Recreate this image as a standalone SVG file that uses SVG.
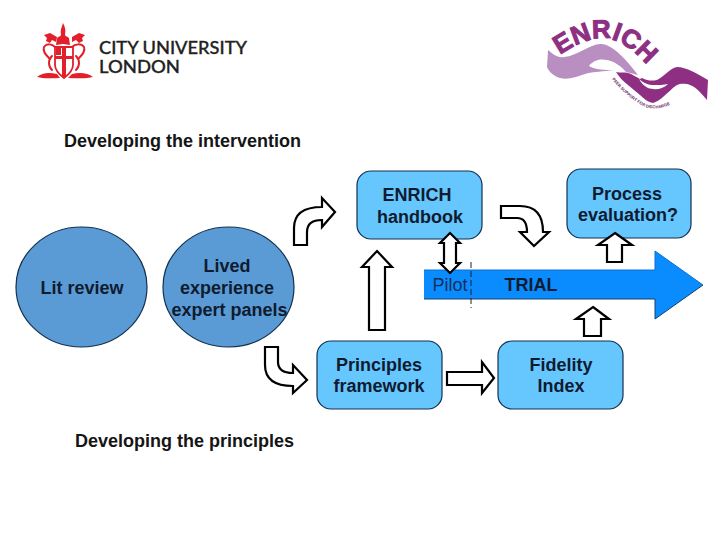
<svg xmlns="http://www.w3.org/2000/svg" width="720" height="540" viewBox="0 0 720 540">
<style>
text{font-family:"Liberation Sans",Arial,sans-serif;font-weight:700;fill:#0f1b30;font-size:18px;text-anchor:middle}
.h{text-anchor:start;fill:#151515}
.box{fill:#66c7ff;stroke:#12304f;stroke-width:1.2}
.circ{fill:#5b9bd5;stroke:#12304f;stroke-width:1.2}
.arr{fill:#fff;stroke:#000;stroke-width:2.2;stroke-linejoin:miter}
.city{font-family:Lato,"Liberation Sans",sans-serif;font-weight:500;text-anchor:start;fill:#222;font-size:17px;stroke:#222;stroke-width:.3}
.red{fill:#e2202c}
.redl{fill:none;stroke:#e2202c;stroke-width:2;stroke-linecap:round}
</style>
<rect width="720" height="540" fill="#fff"/>
<g id="logo-city">
<path class="red" d="M61 34C60 30 62 27 63 23C65 27 66 30 65 34L66 38H60Z"/>
<path class="red" d="M57 38C60 35 66 35 69 38L70 45L63 44L56 45Z"/>
<path class="red" d="M44 35L50 33L57 37L56 42L52 40L50 43L46 41L47 38ZM85 35L79 33L72 37L72 42L76 40L79 43L83 41L82 38Z"/>
<path class="redl" d="M44 47C47 43 52 44 55 47M84 47C81 43 75 44 72 47M44 47C42 52 47 56 50 59M84 47C86 52 81 56 78 59"/>
<path class="redl" d="M52 56C48 60 48 66 52 70M76 56C80 60 80 66 76 70"/>
<path d="M55 47H73V65C73 71 68 75 64 78C60 75 55 71 55 65Z" fill="#fff" stroke="#e2202c" stroke-width="1.8"/>
<path class="red" d="M62 47H66V56H73V59H66V77L64 78L62 77V59H55V56H62Z"/>
<path class="red" d="M56 48H61V55H56Z"/>
<path class="red" d="M37 77C42 73 48 72 57 74L60 78C52 78 44 79 37 77ZM93 77C88 73 80 72 72 74L68 78C76 78 86 79 93 77Z"/>
<text class="city" x="99" y="54" textLength="148" lengthAdjust="spacingAndGlyphs">CITY UNIVERSITY</text>
<text class="city" x="99" y="73" textLength="81" lengthAdjust="spacingAndGlyphs">LONDON</text>
</g>
<g id="logo-enrich">
<path fill="#b88fc0" d="M548 50C554 55 558 58 564 57C578 56 590 43 602 44C615 46 628 62 638 75L626 72C618 62 606 58 598 60C594 61 590 64 589 66C595 70 605 70 613 70C604 72 594 71 585 74C576 77 568 80 560 78C554 76 549 72 547 67Z"/>
<path fill="#8e2f83" d="M616 72C620 73 624 72 628 73C632 74 636 77 640 79L642 78C648 81 652 81 657 80C664 77 670 68 677 67C686 67 698 74 708 80L707 100C702 94 696 87 690 85C684 83 680 84 677 85C672 88 668 93 663 97C660 100 656 102 653 103C648 102 644 99 640 95C636 92 632 88 628 85C623 81 619 77 616 72Z"/>
<path fill="#fff" d="M639 79C644 83 648 85 654 85C658 85 664 85 668 84C662 90 654 90 648 88C644 86 641 83 639 79Z"/>
<path id="enrich-arc" fill="none" d="M560 55C580 41 600 35 614 40C628 45 640 56 662 82"/>
<text style="fill:#8e2f83;font-size:26px;text-anchor:start;stroke:#8e2f83;stroke-width:1"><textPath href="#enrich-arc">ENRICH</textPath></text>
<path id="tag-arc" fill="none" d="M612 79C620 90 632 100 645 107C655 110 665 108 675 102"/>
<text style="fill:#6b2a6b;font-size:4.2px;text-anchor:start"><textPath href="#tag-arc">PEER SUPPORT FOR DISCHARGE</textPath></text>
</g>
<text class="h" x="64" y="147">Developing the intervention</text>
<text class="h" x="75" y="447">Developing the principles</text>
<g id="trial">
<path d="M424 270H655V251L703 285L655 319V299H424Z" fill="#0a8cff"/>
<path d="M424 299H655V319L703 285" fill="none" stroke="#14406e" stroke-width="1"/>
<path d="M424 270H655V251L703 285" fill="none" stroke="#0a6fd0" stroke-width="1"/>
<text x="450" y="291" style="font-weight:400;fill:#12305c">Pilot</text>
<text x="531" y="291">TRIAL</text>
<line x1="471" y1="262" x2="471" y2="308" stroke="#222" stroke-width="1" stroke-dasharray="6 3"/>
</g>
<g id="lit-review">
<ellipse class="circ" cx="81.500" cy="287" rx="65.500" ry="60"/>
<text x="82" y="294">Lit review</text>
</g>
<g id="lived-experience">
<ellipse class="circ" cx="228.500" cy="287" rx="65.500" ry="60"/>
<text x="227" y="272">Lived</text>
<text x="227" y="294">experience</text>
<text x="229.500" y="316">expert panels</text>
</g>
<g id="enrich-handbook">
<rect class="box" x="357" y="171" width="125" height="68" rx="14"/>
<text x="417" y="201">ENRICH</text>
<text x="420" y="223">handbook</text>
</g>
<g id="process-evaluation">
<rect class="box" x="567" y="169" width="124" height="69" rx="14"/>
<text x="627" y="200">Process</text>
<text x="628" y="221">evaluation?</text>
</g>
<g id="principles-framework">
<rect class="box" x="317" y="341" width="125" height="68" rx="14"/>
<text x="379" y="371">Principles</text>
<text x="379" y="392">framework</text>
</g>
<g id="fidelity-index">
<rect class="box" x="498" y="341" width="125" height="68" rx="14"/>
<text x="561" y="371">Fidelity</text>
<text x="561" y="392">Index</text>
</g>
<g id="connectors">
<path class="arr" d="M450 233L460 243H456V263H460L450 273L440 263H444V243H440Z"/>
<path class="arr" d="M377 251L392 267H385V330H369V267H362Z"/>
<path class="arr" d="M615 233L632 245H622V262H607V245H598Z"/>
<path class="arr" d="M593 307L609 319H601V336H584V319H576Z"/>
<path class="arr" d="M447 372H482V362L494 378L482 393V385H447Z"/>
<path class="arr" d="M294 245V228Q294 207 322 207V198L335 212L322 227V220Q307 220 307 232V245Z"/>
<path class="arr" d="M501 206H520Q543 206 543 232H549L534 246L520 232H527Q527 218 517 218H501Z"/>
<path class="arr" d="M265 347V365Q265 386 293 386V393L307 380L293 365V373Q278 373 278 362V347Z"/>
</g>
</svg>
